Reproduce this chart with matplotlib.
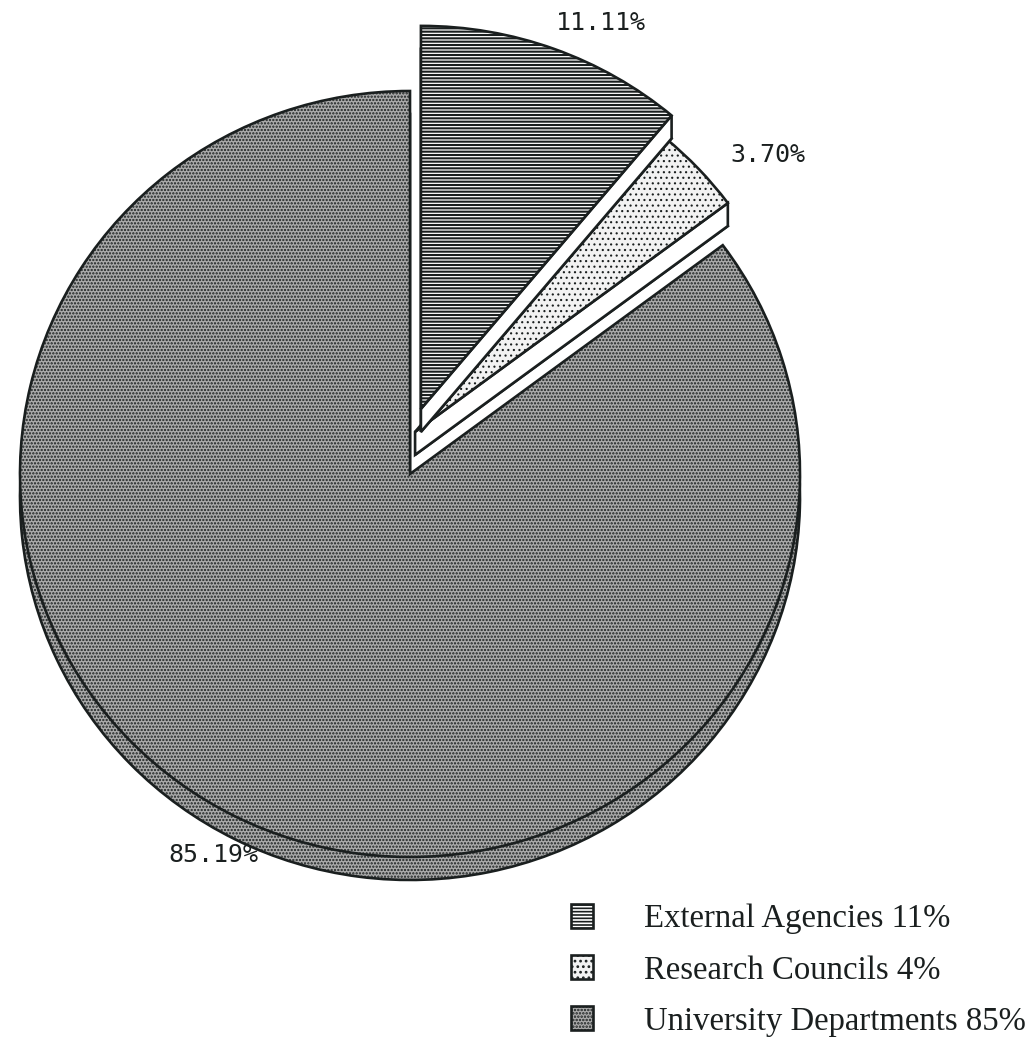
import matplotlib
matplotlib.use("Agg")
import matplotlib.pyplot as plt
from matplotlib.patches import Polygon
import numpy as np

# Funding sources (share of projects, %)
sources = ["External Agencies", "Research Councils", "University Departments"]
shares = [11.11, 3.70, 85.19]

# Fill styles per slice
face_colors = ["#ffffff", "#f2f2f2", "#ababab"]
hatches = ["-----", "...", "....."]
hatch_widths = [1.5, 0.8, 1.1]
ink = "#1a1f1f"
edge_w = 1.9

# Layout: slice displacement (pulled-out wedges), extrusion depth
slice_shift = [(0.028, 0.170), (0.013, 0.110), (0.0, 0.0)]
depth = 0.060
label_pos = [(0.490, 1.178), (0.918, 0.833), (-0.505, -0.995)]

plt.rcParams["hatch.linewidth"] = 1.2
plt.rcParams["hatch.color"] = ink

fig = plt.figure(figsize=(10.36, 10.5), dpi=100)
ax = fig.add_axes([0, 0, 1, 1])

wp = dict(linewidth=edge_w, edgecolor=ink)
lower, _ = ax.pie(shares, startangle=90, counterclock=False, radius=1.0, wedgeprops=wp)
upper, _ = ax.pie(shares, startangle=90, counterclock=False, radius=1.0, wedgeprops=wp)

# Draw the big slice first, pulled-out slices on top of it
draw_order = {2: 0, 1: 1, 0: 2}
for i, (lo, up) in enumerate(zip(lower, upper)):
    ox, oy = slice_shift[i]
    z = 1 + 3 * draw_order[i]
    for w in (lo, up):
        w.set_facecolor(face_colors[i])
        w.set_hatch(hatches[i])
        if hasattr(w, "set_hatch_linewidth"):
            w.set_hatch_linewidth(hatch_widths[i])
    lo.set_center((ox, oy - depth))
    up.set_center((ox, oy))
    lo.set_zorder(z)
    up.set_zorder(z + 2)

    # Radial side faces that face downward
    c = np.array([ox, oy])
    drop = np.array([0.0, depth])
    for ang, sign in ((up.theta1, 1), (up.theta2, -1)):
        t = np.deg2rad(ang)
        ny = -np.cos(t) if sign == 1 else np.cos(t)
        if ny < -1e-6:
            u = np.array([np.cos(t), np.sin(t)]) * up.r
            side = Polygon([c, c + u, c + u - drop, c - drop], closed=True,
                           facecolor="white", edgecolor=ink, linewidth=edge_w,
                           zorder=z + 1)
            ax.add_patch(side)

# Percentage labels
for (x, y), v in zip(label_pos, shares):
    ax.text(x, y, f"{v:.2f}%", ha="center", va="center", fontsize=18,
            family="DejaVu Sans Mono", color=ink, zorder=20)

ax.set_aspect("auto")
ax.set_xlim(-410 / 390, 626 / 390)
ax.set_ylim(-576 / 383, 474 / 383)
ax.axis("off")

leg = ax.legend(upper, [f"{s} {round(v)}%" for s, v in zip(sources, shares)],
                loc="upper left", bbox_to_anchor=(571 / 1036, 1 - 904 / 1050),
                bbox_transform=fig.transFigure, frameon=False,
                prop=dict(family="Liberation Serif", size=23.6),
                handlelength=0.68, handleheight=0.74, handletextpad=1.55,
                labelspacing=0.63, borderpad=0, borderaxespad=0)
for t in leg.get_texts():
    t.set_color(ink)

fig.savefig("out.png", dpi=100, facecolor="white")
